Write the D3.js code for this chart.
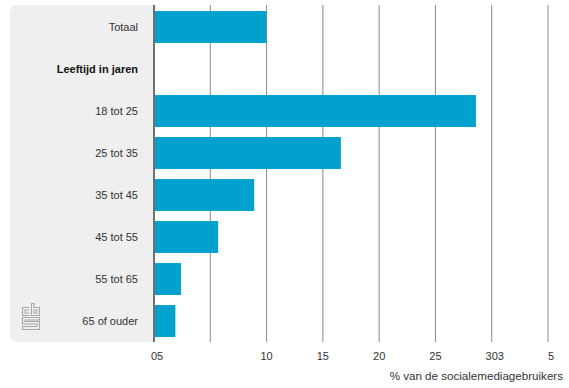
<!DOCTYPE html>
<html>
<head>
<meta charset="utf-8">
<script src="https://cdn.jsdelivr.net/npm/d3@7"></script>
<style>
  html, body { margin: 0; padding: 0; background: #fff; }
  svg { display: block; font-family: "Liberation Sans", Arial, Helvetica, sans-serif; }
</style>
</head>
<body>
<svg id="chart" width="569" height="388"></svg>
<script>
// ---- data ----
const categories = ["Totaal", "Leeftijd in jaren", "18 tot 25", "25 tot 35", "35 tot 45", "45 tot 55", "55 tot 65", "65 of ouder"];
const boldCategories = ["Leeftijd in jaren"];
const values = [10.0, null, 28.6, 16.6, 8.9, 5.7, 2.4, 1.9];
const tickValues = [0, 5, 10, 15, 20, 25, 30, 35];
const tickLabels = ["05", "", "10", "15", "20", "25", "303", "5"];
const axisTitle = "% van de socialemediagebruikers";

// ---- layout ----
const svg = d3.select("#chart");
const plotLeft = 154, plotRight = 548, plotTop = 6, plotBottom = 342;

const x = d3.scaleLinear().domain([0, 35]).range([plotLeft, plotRight]);
const y = d3.scaleBand().domain(categories).range([plotTop, plotBottom]).paddingInner(0.24).paddingOuter(0.12);

// grey label panel with rounded left corners
const panelX = 10, rr = 7;
svg.append("path")
  .attr("d", `M${plotLeft},${plotTop - 1} H${panelX + rr} Q${panelX},${plotTop - 1} ${panelX},${plotTop - 1 + rr} V${plotBottom - rr} Q${panelX},${plotBottom} ${panelX + rr},${plotBottom} H${plotLeft} Z`)
  .attr("fill", "#efefef");

// gridlines
svg.append("g").selectAll("line")
  .data(tickValues.filter(d => d > 0))
  .join("line")
  .attr("x1", d => x(d)).attr("x2", d => x(d))
  .attr("y1", plotTop - 1).attr("y2", plotBottom)
  .attr("stroke", "#8a8a8a").attr("stroke-width", 1);

// bars
svg.append("g").selectAll("rect")
  .data(categories.map((c, i) => ({ c, v: values[i] })).filter(d => d.v != null))
  .join("rect")
  .attr("x", x(0))
  .attr("y", d => y(d.c))
  .attr("width", d => x(d.v) - x(0))
  .attr("height", y.bandwidth())
  .attr("fill", "#00a1cd");

// baseline axis line
svg.append("line")
  .attr("x1", x(0)).attr("x2", x(0))
  .attr("y1", plotTop - 1).attr("y2", plotBottom)
  .attr("stroke", "#6e6e6e").attr("stroke-width", 2);

// category labels
svg.append("g").selectAll("text")
  .data(categories)
  .join("text")
  .attr("x", 138)
  .attr("y", d => y(d) + y.bandwidth() / 2)
  .attr("dy", "0.35em")
  .attr("text-anchor", "end")
  .attr("font-size", 11)
  .attr("font-weight", d => boldCategories.includes(d) ? "bold" : "normal")
  .attr("fill", d => boldCategories.includes(d) ? "#111" : "#333")
  .text(d => d);

// x tick labels
svg.append("g").selectAll("text")
  .data(tickValues.map((v, i) => ({ v, label: tickLabels[i] })))
  .join("text")
  .attr("x", d => x(d.v) + (d.label !== String(d.v) ? 3 : 0))
  .attr("y", 360)
  .attr("text-anchor", "middle")
  .attr("font-size", 11)
  .attr("fill", "#333")
  .text(d => d.label);

// axis title
svg.append("text")
  .attr("x", 563).attr("y", 380)
  .attr("text-anchor", "end")
  .attr("font-size", 11.6)
  .attr("fill", "#333")
  .text(axisTitle);

// CBS logo (simplified)
const logo = svg.append("g")
  .attr("transform", "translate(22,303)")
  .attr("fill", "none")
  .attr("stroke", "#a8a8a8")
  .attr("stroke-width", 1.1);
logo.append("path").attr("d", "M7.5,4.5 H0.5 V12.5 H7.5 M7.5,7 H3 V10 H7.5");
logo.append("path").attr("d", "M9.5,0.5 V12.5 H17.5 V4.5 H12 V0.5 Z M12,7 H15 V10 H12 Z");
logo.append("path").attr("d", "M17.5,14.5 H0.5 V21 H15 V23.5 H0.5 V26.5 H17.5 V18.5 H3 V17 H17.5 Z");
</script>
</body>
</html>
